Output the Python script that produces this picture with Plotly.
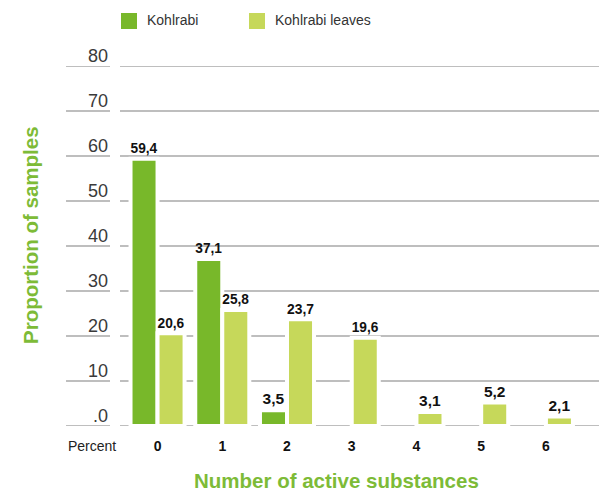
import plotly.graph_objects as go

categories = ["0", "1", "2", "3", "4", "5", "6"]
kohlrabi = [59.4, 37.1, 3.5, None, None, None, None]
kohlrabi_leaves = [20.6, 25.8, 23.7, 19.6, 3.1, 5.2, 2.1]
series_names = ["Kohlrabi", "Kohlrabi leaves"]
y_ticks = [0, 10, 20, 30, 40, 50, 60, 70, 80]
y_tick_labels = [".0", "10", "20", "30", "40", "50", "60", "70", "80"]

GREEN = "#78b82a"
LIGHT = "#c6d85a"
TITLE_GREEN = "#7dbb37"
GRID = "#a8a8a8"
FONT = "Liberation Sans, Arial, sans-serif"

x_idx = list(range(len(categories)))

fig = go.Figure()
for name, vals, col in [(series_names[0], kohlrabi, GREEN), (series_names[1], kohlrabi_leaves, LIGHT)]:
    fig.add_trace(go.Bar(
        x=x_idx, y=vals, name=name,
        marker=dict(color=col, line=dict(color="white", width=4)),
        texttemplate="<b>%{y:.1f}</b>", textposition="outside",
        textfont=dict(family=FONT, size=15.5, color="#111"),
        cliponaxis=False, showlegend=False,
    ))

annotations = []
shapes = []
for v, lab in zip(y_ticks, y_tick_labels):
    annotations.append(dict(
        x=-0.0209, xref="paper", y=v, yref="y", text=lab, showarrow=False,
        xanchor="right", yanchor="bottom", yshift=-2,
        font=dict(family=FONT, size=18, color="#3a3a3a")))
    # underline under tick label
    shapes.append(dict(type="line", xref="paper", yref="y", x0=-0.1127, x1=-0.0209,
                       y0=v, y1=v, line=dict(color=GRID, width=1.3), layer="below"))
    # gridline in plot area
    shapes.append(dict(type="line", xref="paper", yref="y", x0=0, x1=1,
                       y0=v, y1=v, line=dict(color=GRID, width=1.3), layer="below"))

annotations.append(dict(x=-0.1127, xref="paper", y=0, yref="y", yshift=-20,
                        text="Percent", showarrow=False, xanchor="left", yanchor="middle",
                        font=dict(family=FONT, size=14, color="#222")))
annotations.append(dict(x=(336 - 120) / 479, xref="paper", y=(426 - 481) / 360, yref="paper",
                        text="<b>Number of active substances</b>", showarrow=False,
                        xanchor="center", yanchor="middle",
                        font=dict(family=FONT, size=20.5, color=TITLE_GREEN)))
annotations.append(dict(x=(30 - 120) / 479, xref="paper", y=(426 - 235) / 360, yref="paper",
                        text="<b>Proportion of samples</b>", showarrow=False, textangle=-90,
                        xanchor="center", yanchor="middle",
                        font=dict(family=FONT, size=20.5, color=TITLE_GREEN)))

# legend
legend_x = [121, 249]
for lx, name, col in zip(legend_x, series_names, [GREEN, LIGHT]):
    shapes.append(dict(type="rect", xref="paper", yref="paper",
                       x0=(lx - 120) / 479, x1=(lx + 16 - 120) / 479,
                       y0=(426 - 29) / 360, y1=(426 - 13) / 360,
                       fillcolor=col, line=dict(width=0)))
    annotations.append(dict(x=(lx + 24 - 120) / 479, xref="paper", y=(426 - 20) / 360, yref="paper",
                            text=name, showarrow=False, xanchor="left", yanchor="middle",
                            font=dict(family=FONT, size=14, color="#333")))

fig.update_layout(
    width=599, height=494,
    margin=dict(l=120, r=0, t=66, b=68),
    plot_bgcolor="rgba(0,0,0,0)", paper_bgcolor="white",
    barmode="group", bargap=0.165, bargroupgap=0,
    separators=",.",
    font=dict(family=FONT),
    xaxis=dict(range=[-0.58, 6.82], tickmode="array", tickvals=x_idx,
               ticktext=["<b>%s</b>" % c for c in categories],
               tickfont=dict(family=FONT, size=14, color="#111"),
               showgrid=False, zeroline=False, showline=False, ticks="", ticklabelstandoff=10),
    yaxis=dict(range=[0, 80], tickmode="array", tickvals=y_ticks, showticklabels=False,
               showgrid=False, zeroline=False, showline=False),
    annotations=annotations, shapes=shapes,
)
fig.write_html("out.html", config={"displayModeBar": False},
               post_script="document.body.style.margin='0';document.body.style.overflow='hidden';")
